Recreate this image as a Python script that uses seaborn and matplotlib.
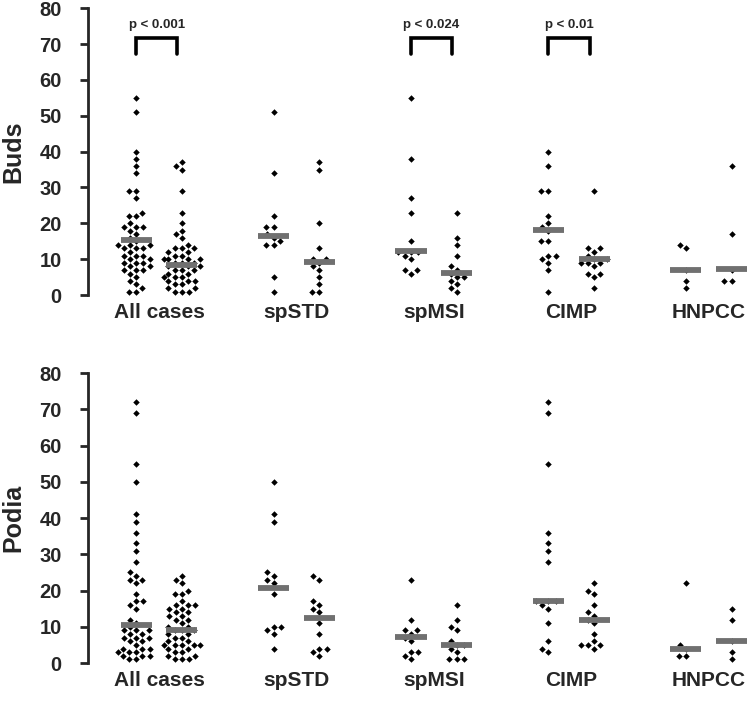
import numpy as np
import pandas as pd
import matplotlib.pyplot as plt
import seaborn as sns
from matplotlib.transforms import Affine2D

groups = ['All cases', 'spSTD', 'spMSI', 'CIMP', 'HNPCC']

# first / second column of every group
buds_1 = [
    [55, 51, 40, 38, 36, 34, 29, 29, 27, 23, 22, 22, 20, 19, 19, 19, 18, 17, 16, 15, 14, 14, 14, 13,
     13, 13, 12, 11, 11, 11, 10, 10, 9, 9, 9, 8, 8, 7, 7, 7, 6, 5, 4, 3, 2, 1, 1],
    [51, 34, 22, 19, 19, 17, 16, 15, 14, 14, 5, 1],
    [55, 38, 27, 23, 15, 12, 12, 12, 11, 10, 7, 7, 6],
    [40, 36, 29, 29, 22, 20, 19, 18, 15, 15, 11, 11, 10, 9, 7, 1],
    [14, 13, 7, 4, 2],
]
buds_2 = [
    [37, 36, 35, 29, 23, 20, 18, 17, 16, 14, 13, 13, 13, 12, 12, 11, 11, 10, 10, 10, 10, 9, 9, 9,
     8, 8, 8, 7, 7, 7, 6, 6, 5, 5, 5, 4, 4, 4, 3, 3, 2, 2, 1, 1, 1],
    [37, 35, 20, 13, 10, 10, 9, 8, 7, 5, 3, 1, 1],
    [23, 16, 14, 11, 8, 7, 6, 5, 5, 4, 3, 2, 1],
    [29, 13, 13, 12, 11, 10, 10, 9, 9, 9, 8, 6, 6, 5, 2],
    [36, 17, 7, 4, 4],
]
podia_1 = [
    [72, 69, 55, 50, 41, 39, 36, 33, 31, 28, 25, 24, 23, 23, 22, 19, 17, 17, 16, 15, 12, 11, 10, 9,
     9, 9, 8, 8, 7, 7, 7, 6, 6, 5, 4, 4, 4, 3, 3, 3, 2, 2, 2, 1, 1],
    [50, 41, 39, 25, 24, 23, 22, 19, 10, 10, 9, 8, 4],
    [23, 12, 9, 9, 8, 7, 6, 3, 3, 2, 1],
    [72, 69, 55, 36, 33, 31, 28, 17, 17, 17, 16, 15, 11, 6, 4, 3],
    [22, 5, 4, 2, 2],
]
podia_2 = [
    [24, 23, 22, 20, 19, 19, 17, 16, 16, 16, 15, 15, 14, 14, 13, 13, 12, 12, 11, 10, 10, 9, 9, 9,
     8, 8, 7, 7, 6, 6, 5, 5, 5, 5, 5, 4, 4, 3, 3, 2, 2, 1, 1, 1],
    [24, 23, 17, 16, 15, 14, 11, 8, 4, 4, 3, 2],
    [16, 12, 10, 9, 6, 5, 5, 4, 3, 1, 1, 1],
    [22, 20, 19, 16, 14, 13, 12, 11, 8, 6, 5, 5, 5, 4],
    [15, 12, 6, 3, 1],
]

buds_med_1 = [15.4, 16.5, 12.2, 18.1, 7.0]
buds_med_2 = [8.5, 9.1, 6.3, 10.1, 7.2]
podia_med_1 = [10.4, 20.7, 7.3, 17.1, 4.0]
podia_med_2 = [9.2, 12.5, 5.1, 12.0, 6.0]

p_labels = ['p < 0.001', None, 'p < 0.024', 'p < 0.01', None]

sns.set_style('ticks')
plt.rcParams['font.family'] = ['Liberation Sans', 'DejaVu Sans']
plt.rcParams['font.weight'] = 'bold'

SWARM_SIZE = 5.0   # spacing used by the swarm layout
DOT_SIZE = 3.3     # size of the diamonds actually drawn


def long_frame(first, second):
    rows = []
    for i in range(len(groups)):
        for v in first[i]:
            rows.append((3 * i, v))
        for v in second[i]:
            rows.append((3 * i + 1, v))
    return pd.DataFrame(rows, columns=['pos', 'value'])


def panel(ax, first, second, med1, med2, label, pvals=None):
    df = long_frame(first, second)
    sns.swarmplot(data=df, x='pos', y='value', native_scale=True, orient='v',
                  marker='D', size=SWARM_SIZE, color='black', linewidth=0, ax=ax, zorder=3)
    # spread the swarm a bit wider than the drawn diamonds
    shrink = Affine2D().scale(DOT_SIZE / SWARM_SIZE)
    for c in ax.collections:
        c.set_paths([p.transformed(shrink) for p in c.get_paths()])
        c.set_clip_on(False)
    for i in range(len(groups)):
        ax.hlines(med1[i], 3 * i - 0.34, 3 * i + 0.34, color='#707070', lw=4.2, zorder=4)
        ax.hlines(med2[i], 3 * i + 1 - 0.34, 3 * i + 1 + 0.34, color='#707070', lw=4.2, zorder=4)
    if pvals:
        for i, p in enumerate(pvals):
            if p is None:
                continue
            x1, x2 = 3 * i, 3 * i + 0.9
            ax.plot([x1, x1, x2, x2], [67.2, 71.7, 71.7, 67.2], color='black', lw=2.6,
                    solid_joinstyle='miter', clip_on=False)
            ax.text((x1 + x2) / 2, 75.3, p, ha='center', va='center', fontsize=9.5,
                    fontweight='bold')
    ax.set_xlim(-1.05, 13.4)
    ax.set_ylim(0, 80)
    ax.set_yticks(np.arange(0, 81, 10))
    ax.set_xticks([3 * i + 0.5 for i in range(len(groups))])
    ax.set_xticklabels(groups, fontsize=15, fontweight='bold')
    ax.tick_params(axis='x', length=0, pad=6)
    ax.tick_params(axis='y', length=6, width=2, pad=13, labelsize=14.5)
    for t in ax.get_yticklabels():
        t.set_fontweight('bold')
    ax.set_xlabel('')
    ax.set_ylabel(label, fontsize=18, fontweight='bold', labelpad=10)
    sns.despine(ax=ax, bottom=True)
    ax.spines['left'].set_linewidth(2)


fig = plt.figure(figsize=(7.5, 7.01), dpi=100)
ax1 = fig.add_axes([0.1173, 0.579, 0.8827, 0.4094])
ax2 = fig.add_axes([0.1173, 0.0542, 0.8827, 0.4137])

panel(ax1, buds_1, buds_2, buds_med_1, buds_med_2, 'Buds', p_labels)
panel(ax2, podia_1, podia_2, podia_med_1, podia_med_2, 'Podia')

plt.savefig('out.png', dpi=100)
